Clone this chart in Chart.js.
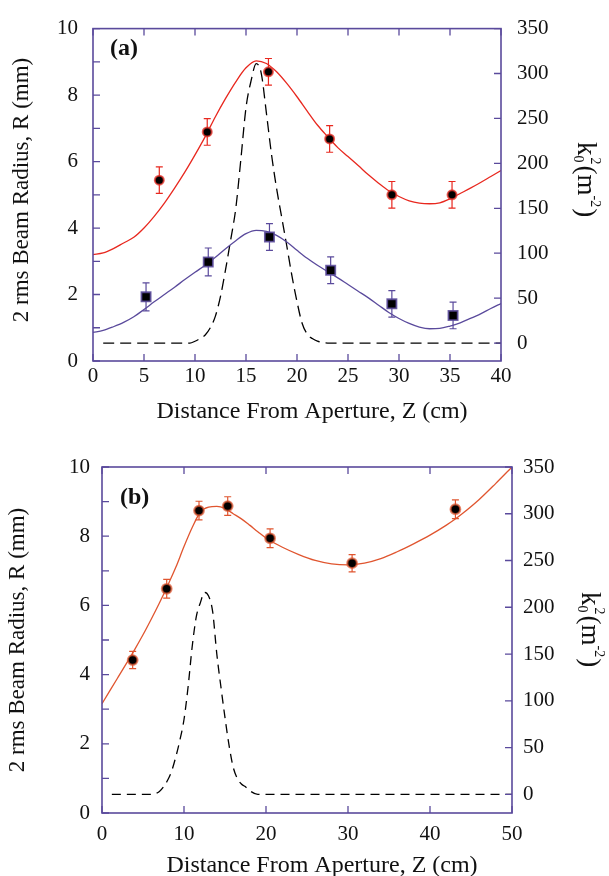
<!DOCTYPE html>
<html>
<head>
<meta charset="utf-8">
<script src="https://cdn.jsdelivr.net/npm/chart.js@4.4.1/dist/chart.umd.min.js"></script>
<style>
  body { margin: 0; background: #fff; width: 609px; height: 876px; position: relative; overflow: hidden; }
  canvas { position: absolute; left: 0; }
  #chartA { top: 0; }
  #chartB { top: 430px; }
</style>
</head>
<body>
<canvas id="chartA" width="609" height="430"></canvas>
<canvas id="chartB" width="609" height="446"></canvas>
<script>
// ---- panel (a) ----
const zRedA = [6.5, 11.2, 17.2, 23.2, 29.3, 35.2];
const rRedA = [5.44, 6.89, 8.7, 6.68, 5.0, 5.0];
const errRedA = [0.4, 0.4, 0.4, 0.4, 0.4, 0.4];

const zSqA = [5.2, 11.3, 17.3, 23.3, 29.3, 35.3];
const rSqA = [1.93, 2.98, 3.73, 2.73, 1.72, 1.37];
const errSqA = [0.42, 0.42, 0.4, 0.4, 0.4, 0.4];

const fitZA = [0, 1, 2, 3, 4, 5, 6, 7, 8, 9, 10, 11, 12, 13, 14, 15, 16, 17, 18, 19, 20,
               21, 22, 23, 24, 25, 26, 27, 28, 29, 30, 31, 32, 33, 34, 35, 36, 37, 38, 39, 40];
const fitRedA = [3.2, 3.25, 3.38, 3.55, 3.72, 4.0, 4.35, 4.75, 5.2, 5.68, 6.2, 6.75, 7.35, 7.9, 8.4, 8.82, 9.03, 8.95, 8.7, 8.35, 7.95,
                 7.52, 7.1, 6.75, 6.42, 6.15, 5.88, 5.6, 5.35, 5.12, 4.95, 4.82, 4.75, 4.73, 4.76, 4.88, 5.04, 5.2, 5.37, 5.55, 5.73];
const fitBlueA = [0.86, 0.92, 1.03, 1.16, 1.33, 1.55, 1.78, 2.0, 2.22, 2.45, 2.67, 2.88, 3.12, 3.38, 3.62, 3.83, 3.93, 3.9, 3.78, 3.58, 3.33,
                  3.09, 2.88, 2.69, 2.5, 2.3, 2.1, 1.9, 1.68, 1.46, 1.28, 1.13, 1.02, 0.97, 0.98, 1.05, 1.15, 1.28, 1.42, 1.58, 1.73];

const kZA = [1, 9.5, 10, 10.5, 11, 11.5, 12, 12.5, 13, 13.5, 14, 14.5, 15, 15.5, 16, 16.5, 17, 17.5, 18, 18.5, 19, 19.5, 20, 20.5, 21, 21.5, 22, 23, 40];
const kA  = [0, 0, 2, 5, 9, 17, 30, 52, 82, 115, 150, 205, 262, 292, 311, 300, 256, 210, 172, 140, 108, 75, 46, 22, 10, 5, 2, 0, 0];

// ---- panel (b) ----
const zB = [3.74, 7.89, 11.83, 15.33, 20.5, 30.5, 43.1];
const rB = [4.42, 6.48, 8.74, 8.87, 7.94, 7.22, 8.78];
const errB = [0.25, 0.27, 0.27, 0.27, 0.27, 0.25, 0.27];

const fitZB = [0, 1, 2, 3, 4, 5, 6, 7, 8, 9, 10, 11, 12, 13, 14, 15, 16, 17, 18, 19, 20,
               22, 24, 26, 28, 30, 32, 34, 36, 38, 40, 42, 43, 44, 46, 48, 50];
const fitRedB = [3.16, 3.55, 3.94, 4.33, 4.73, 5.15, 5.6, 6.07, 6.57, 7.1, 7.7, 8.25, 8.7, 8.84, 8.86, 8.8, 8.65, 8.5, 8.32, 8.13, 7.95,
                 7.68, 7.47, 7.3, 7.2, 7.17, 7.22, 7.35, 7.55, 7.78, 8.03, 8.32, 8.48, 8.66, 9.06, 9.52, 10.0];

const kZB = [1.2, 6, 7, 7.5, 8, 8.5, 9, 9.5, 10, 10.5, 11, 11.5, 12, 12.5, 13, 13.5, 14, 14.5, 15, 15.5, 16, 16.5, 17, 17.5, 18, 19, 50];
const kB  = [0, 0, 3, 8, 15, 25, 40, 58, 80, 115, 158, 190, 205, 216, 212, 195, 150, 115, 82, 52, 29, 17, 11, 8, 4, 0, 0];

// right axis ticks (k0^2)
const kTicks = [0, 50, 100, 150, 200, 250, 300, 350];

const leftTitle = '2 rms Beam Radius, R (mm)';
const xTitle = 'Distance From Aperture, Z (cm)';

const AXIS = '#5a4a9c';
const FONT = '"Liberation Serif", "Times New Roman", serif';

function pts(xs, ys) {
    return xs.map((x, i) => ({x: x, y: ys[i]}));
}

// error bars under the markers
const errBars = {
    id: 'errBars',
    beforeDatasetsDraw(chart) {
        const ctx = chart.ctx;
        chart.data.datasets.forEach(ds => {
            if (!ds.err) return;
            const sx = chart.scales.x, sy = chart.scales[ds.yAxisID || 'y'];
            ctx.save();
            ctx.strokeStyle = ds.errColor;
            ctx.lineWidth = 1.2;
            ctx.beginPath();
            ds.data.forEach((p, j) => {
                const x = sx.getPixelForValue(p.x);
                const y1 = sy.getPixelForValue(p.y - ds.err[j]);
                const y2 = sy.getPixelForValue(p.y + ds.err[j]);
                ctx.moveTo(x, y1); ctx.lineTo(x, y2);
                ctx.moveTo(x - 3.5, y1); ctx.lineTo(x + 3.5, y1);
                ctx.moveTo(x - 3.5, y2); ctx.lineTo(x + 3.5, y2);
            });
            ctx.stroke();
            ctx.restore();
        });
    }
};

// box round the plot with inward ticks
const frame = {
    id: 'frame',
    afterDatasetsDraw(chart) {
        const {ctx, chartArea: a, scales} = chart;
        const len = 7;
        ctx.save();
        ctx.strokeStyle = AXIS;
        ctx.lineWidth = 1.6;
        ctx.strokeRect(a.left, a.top, a.right - a.left, a.bottom - a.top);
        ctx.lineWidth = 1.3;
        ctx.beginPath();
        scales.x.ticks.forEach(t => {
            const px = scales.x.getPixelForValue(t.value);
            ctx.moveTo(px, a.bottom); ctx.lineTo(px, a.bottom - len);
            ctx.moveTo(px, a.top); ctx.lineTo(px, a.top + len);
        });
        scales.y.ticks.forEach(t => {
            const py = scales.y.getPixelForValue(t.value);
            ctx.moveTo(a.left, py); ctx.lineTo(a.left + len, py);
        });
        scales.y2.ticks.forEach(t => {
            const py = scales.y2.getPixelForValue(t.value);
            ctx.moveTo(a.right, py); ctx.lineTo(a.right - len, py);
        });
        ctx.stroke();
        ctx.restore();
    }
};

// axis titles and panel letter
const texts = {
    id: 'texts',
    afterDraw(chart, args, o) {
        const ctx = chart.ctx;
        ctx.fillStyle = '#111';

        ctx.save();
        ctx.font = '23px ' + FONT;
        ctx.translate(o.left[0], o.left[1]);
        ctx.rotate(-Math.PI / 2);
        ctx.textAlign = 'center';
        ctx.fillText(leftTitle, 0, 0);
        ctx.restore();

        ctx.save();
        ctx.font = '24px ' + FONT;
        ctx.textAlign = 'center';
        ctx.fillText(xTitle, o.bottom[0], o.bottom[1]);
        ctx.restore();

        ctx.save();
        ctx.font = 'bold 24px ' + FONT;
        ctx.textAlign = 'left';
        ctx.fillText(o.letter, o.letterPos[0], o.letterPos[1]);
        ctx.restore();

        // k0^2 (m^-2), reads top to bottom
        ctx.save();
        ctx.translate(o.right[0], o.right[1]);
        ctx.rotate(Math.PI / 2);
        ctx.textAlign = 'left';
        let cx = 0;
        ctx.font = '27px ' + FONT;
        ctx.fillText('k', cx, 0);
        cx += ctx.measureText('k').width;
        ctx.font = '14px ' + FONT;
        ctx.fillText('0', cx, 4);
        ctx.fillText('2', cx + 2, -13);
        cx += ctx.measureText('0').width + 3;
        ctx.font = '27px ' + FONT;
        ctx.fillText('(m', cx, 0);
        cx += ctx.measureText('(m').width;
        ctx.font = '14px ' + FONT;
        ctx.fillText('-2', cx, -13);
        cx += ctx.measureText('-2').width + 1;
        ctx.font = '27px ' + FONT;
        ctx.fillText(')', cx, 0);
        ctx.restore();
    }
};

function makeChart(id, cfg) {
    return new Chart(document.getElementById(id), {
        type: 'line',
        data: {datasets: cfg.datasets},
        options: {
            responsive: false,
            animation: false,
            layout: {padding: {top: cfg.top, left: 0, right: 0, bottom: 0}},
            plugins: {
                legend: {display: false},
                tooltip: {enabled: false},
                texts: cfg.texts
            },
            scales: {
                x: {
                    type: 'linear', min: 0, max: cfg.xMax,
                    grid: {display: false, drawTicks: false},
                    border: {display: false},
                    ticks: {stepSize: cfg.xStep, padding: cfg.xPad, color: '#111', autoSkip: false,
                            maxRotation: 0, font: {family: FONT, size: 21}},
                    afterFit: s => { s.height = cfg.xH; }
                },
                y: {
                    min: 0, max: 10,
                    grid: {display: false, drawTicks: false},
                    border: {display: false},
                    ticks: {stepSize: 1, padding: cfg.yPad, color: '#111', autoSkip: false,
                            font: {family: FONT, size: 21},
                            callback: v => (v % 2 === 0 ? v : '')},
                    afterFit: s => { s.width = cfg.yW; }
                },
                y2: {
                    position: 'right', min: -20, max: 350,
                    grid: {display: false, drawTicks: false},
                    border: {display: false},
                    ticks: {padding: cfg.y2Pad, color: '#111', autoSkip: false,
                            font: {family: FONT, size: 21}},
                    afterBuildTicks: s => { s.ticks = kTicks.map(v => ({value: v})); },
                    afterFit: s => { s.width = cfg.y2W; }
                }
            }
        },
        plugins: [errBars, frame, texts]
    });
}

const chartA = makeChart('chartA', {
    top: 19, xMax: 40, xStep: 5, xH: 69, yW: 93, y2W: 108, xPad: 3, yPad: 15, y2Pad: 16,
    texts: {left: [28, 190], bottom: [312, 418], letter: '(a)', letterPos: [110, 55], right: [578, 142]},
    datasets: [
        {data: pts(zRedA, rRedA), err: errRedA, errColor: '#e8281f', showLine: false,
         pointRadius: 4.5, pointBorderWidth: 2, pointBackgroundColor: '#000', pointBorderColor: 'rgba(232,50,40,0.75)'},
        {data: pts(zSqA, rSqA), err: errSqA, errColor: AXIS, showLine: false, pointStyle: 'rect',
         pointRadius: 6.5, pointBorderWidth: 1.8, pointBackgroundColor: '#000', pointBorderColor: 'rgba(90,74,156,0.85)'},
        {data: pts(fitZA, fitRedA), borderColor: '#e8281f', borderWidth: 1.3, pointRadius: 0, cubicInterpolationMode: 'monotone'},
        {data: pts(fitZA, fitBlueA), borderColor: AXIS, borderWidth: 1.3, pointRadius: 0, cubicInterpolationMode: 'monotone'},
        {data: pts(kZA, kA), yAxisID: 'y2', borderColor: '#000', borderWidth: 1.3, borderDash: [11, 6],
         pointRadius: 0, cubicInterpolationMode: 'monotone'}
    ]
});

const chartB = makeChart('chartB', {
    top: 37, xMax: 50, xStep: 10, xH: 63, yW: 102, y2W: 97, xPad: 9, yPad: 12, y2Pad: 11,
    texts: {left: [24, 210], bottom: [322, 442], letter: '(b)', letterPos: [120, 74], right: [582, 162]},
    datasets: [
        {data: pts(zB, rB), err: errB, errColor: '#e0552f', showLine: false,
         pointRadius: 4.8, pointBorderWidth: 2.2, pointBackgroundColor: '#000', pointBorderColor: 'rgba(224,85,47,0.7)'},
        {data: pts(fitZB, fitRedB), borderColor: '#e0552f', borderWidth: 1.3, pointRadius: 0, cubicInterpolationMode: 'monotone'},
        {data: pts(kZB, kB), yAxisID: 'y2', borderColor: '#000', borderWidth: 1.3, borderDash: [9, 6],
         pointRadius: 0, cubicInterpolationMode: 'monotone'}
    ]
});
</script>
</body>
</html>
